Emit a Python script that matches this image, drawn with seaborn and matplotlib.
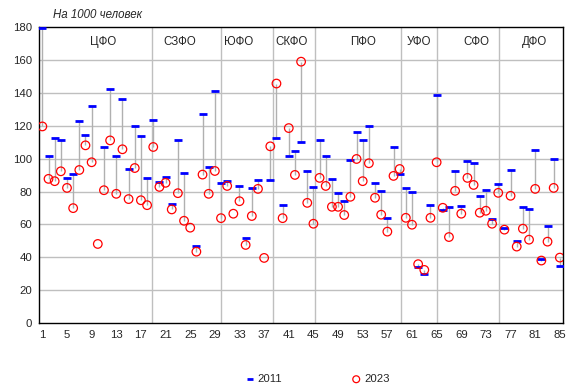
import seaborn as sns
import pandas as pd
import numpy as np
import matplotlib.pyplot as plt

nan = np.nan

# regions numbered 1..85
region_no = list(range(1, 86))

y2011 = [179.4, 101.6, 112.5, 111.3, 88.3, 90.7, 122.8, 114.3, 131.9, nan,
         106.9, 142.6, 101.6, 136.0, 93.5, 119.6, 113.7, 88.3, 123.8, 85.7,
         88.9, 72.5, 111.3, 91.3, nan, 46.9, 126.9, 95.0, 141.0, 85.3,
         86.3, nan, 83.4, 51.7, 82.2, 86.9, nan, 86.9, 112.5, 71.9,
         101.6, 104.6, 110.1, 92.5, 82.8, 111.3, 101.6, 87.7, 79.2, 74.3,
         99.2, 116.2, 111.3, 119.8, 85.3, 80.4, 64.0, 106.9, 90.7, 82.2,
         79.8, 34.3, 29.9, 71.9, 138.6, 68.9, 70.7, 92.5, 71.3, 98.6,
         97.4, 77.4, 81.0, 63.4, 84.6, 58.0, 93.1, 50.1, 70.7, 69.5,
         105.3, 39.2, 59.2, 99.8, 34.9]

y2023 = [119.6, 87.7, 86.3, 92.3, 82.2, 69.9, 93.1, 108.1, 97.8, 48.1,
         80.8, 111.1, 78.6, 105.7, 75.4, 94.3, 74.7, 71.7, 107.1, 82.8,
         85.3, 69.1, 79.0, 62.2, 58.0, 43.4, 90.3, 78.6, 92.5, 63.8,
         83.4, 66.5, 74.1, 47.5, 65.1, 81.6, 39.6, 107.5, 145.7, 63.8,
         118.6, 90.1, 159.0, 73.1, 60.4, 88.3, 83.4, 70.7, 70.7, 65.7,
         76.8, 99.8, 86.3, 97.2, 76.2, 65.9, 55.6, 89.5, 93.7, 64.0,
         59.8, 35.8, 32.3, 64.0, 97.8, 70.1, 52.3, 80.4, 66.5, 88.3,
         84.0, 67.1, 68.3, 60.4, 79.2, 56.8, 77.4, 46.5, 57.4, 50.7,
         81.6, 38.0, 49.5, 82.2, 39.8]

districts = ['ЦФО', 'СЗФО', 'ЮФО', 'СКФО', 'ПФО', 'УФО', 'СФО', 'ДФО']
district_label_x = [10.9, 23.3, 32.8, 41.4, 53.1, 62.2, 71.4, 80.9]
district_borders = [18.75, 30.0, 38.4, 45.3, 59.2, 65.1, 75.2]

df = pd.DataFrame({'n': region_no, 'y2011': y2011, 'y2023': y2023})

sns.set_style('white')
plt.rcParams['font.family'] = ['Liberation Sans', 'DejaVu Sans']

fig = plt.figure(figsize=(5.75, 3.88), dpi=100)
ax = fig.add_axes([0.0683, 0.1675, 0.9107, 0.7625])

grid_c = '#bfbfbf'
for v in range(20, 180, 20):
    ax.axhline(v, color=grid_c, lw=1, zorder=0)
for b in district_borders:
    ax.axvline(b, color=grid_c, lw=1, zorder=0)

# connectors between 2011 and 2023
both = df.dropna()
ax.vlines(both['n'], both['y2011'], both['y2023'], color='#b0b0b0', lw=1, zorder=1)

sns.scatterplot(data=df, x='n', y='y2011', marker='_', s=30, color='#0000ff',
                linewidth=2, ax=ax, zorder=3, label='2011')
sns.scatterplot(data=df, x='n', y='y2023', marker='o', s=38, facecolor='none',
                edgecolor='#ff0000', linewidth=0.9, ax=ax, zorder=4, label='2023')

for name, xl in zip(districts, district_label_x):
    ax.text(xl, 170.8, name, ha='center', va='center', fontsize=8.3)

ax.set_xlim(0.5, 85.5)
ax.set_ylim(0, 180)
ax.set_xticks(list(range(1, 86, 4)))
ax.set_yticks(list(range(0, 181, 20)))
ax.tick_params(axis='both', length=0, labelsize=8.2, pad=5)
ax.set_xlabel('')
ax.set_ylabel('')
for s in ax.spines.values():
    s.set_color('black')
    s.set_linewidth(1)

fig.text(53 / 575, 1 - 15 / 388, 'На 1000 человек', style='italic',
         fontsize=8.3, va='center', ha='left')

ax.legend(loc='center', bbox_to_anchor=(0.53, -0.19), ncol=2, frameon=False,
          fontsize=8.2, columnspacing=6, handletextpad=0.2, handlelength=1.0,
          markerscale=0.8)

plt.savefig('out.png', dpi=100)
